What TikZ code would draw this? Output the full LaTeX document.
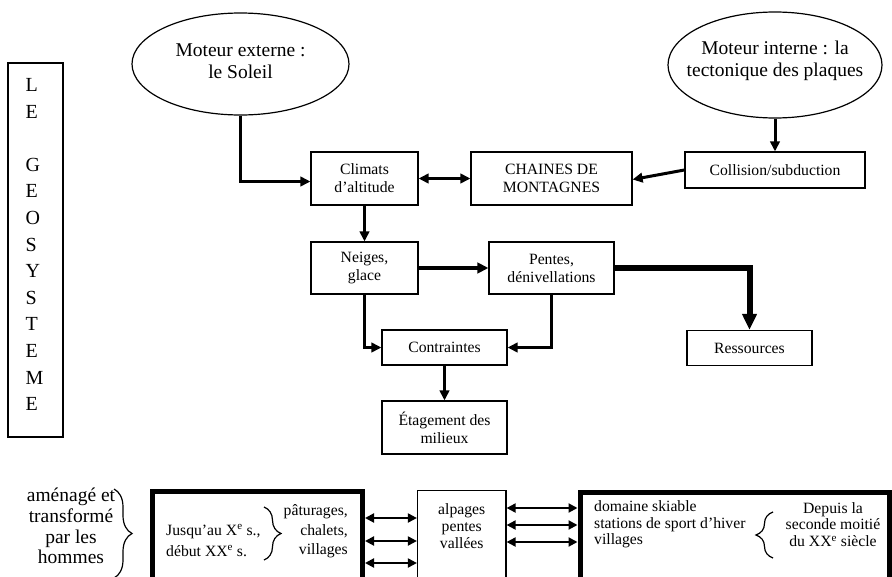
\documentclass[tikz,border=0pt]{standalone}
\usepackage{fontspec}
\setmainfont{Liberation Serif}
\usetikzlibrary{arrows.meta,shapes.geometric,decorations.pathreplacing}
\begin{document}
\begin{tikzpicture}[x=1pt,y=-1pt,
  box/.style={draw, line width=1.2pt, inner sep=0pt, align=center, font=\fontsize{15.7}{18}\selectfont},
  ell/.style={draw, ellipse, line width=1.2pt, inner sep=0pt},
  etext/.style={align=center, inner sep=0pt, font=\fontsize{19.5}{22}\selectfont},
  txt/.style={inner sep=0pt, font=\fontsize{15.7}{18}\selectfont},
  conn/.style={line width=3pt, -{Triangle[length=10pt,width=9.5pt]}},
  connb/.style={line width=4pt, -{Triangle[length=11pt,width=10.5pt]}},
  conns/.style={line width=6pt, -{Triangle[length=16pt,width=14pt]}},
  dbl/.style={line width=3pt, {Triangle[length=10pt,width=9.5pt]}-{Triangle[length=10pt,width=9.5pt]}},
  dbls/.style={line width=2pt, {Triangle[length=9pt,width=9pt]}-{Triangle[length=9pt,width=9pt]}},
  bigbox/.style={draw, line width=5pt, inner sep=0pt},
  brc/.style={decorate, line width=1.2pt},
  letter/.style={anchor=west, inner sep=0pt, font=\fontsize{20}{24}\selectfont}
]
\path[use as bounding box] (0,0) rectangle (892,576);
\clip (0,0) rectangle (892,576);

% LE GEOSYSTEME
\node[draw, line width=1.2pt, minimum width=55pt, minimum height=374pt, inner sep=0pt] (geo) at (35.5,250) {};
\foreach \ch/\yy [count=\i] in {L/85, E/111.6, G/164.8, E/191.4, O/218, S/244.6, Y/271.2, S/297.8, T/324.4, E/351, M/377.6, E/404.2}
  \node[letter] (g\i) at (25.5,\yy) {\ch};

% ellipses
\node[ell, minimum width=217pt, minimum height=102pt] (e1) at (240.5,64) {};
\node[etext] (e1t) at (240.5,61) {Moteur externe :\\le Soleil};
\node[ell, minimum width=214pt, minimum height=106pt] (e2) at (775,65) {};
\node[etext] (e2t) at (775,61) {Moteur interne : la\\tectonique des plaques};

% boxes
\node[box, minimum width=107pt, minimum height=53pt] (clim) at (364.5,178.5) {Climats\\d’altitude};
\node[box, minimum width=161pt, minimum height=53pt] (chain) at (551.5,178.5) {CHAINES DE\\MONTAGNES};
\node[box, minimum width=180pt, minimum height=36pt] (coll) at (775,170) {Collision/subduction};
\node[box, minimum width=107pt, minimum height=52pt] (neig) at (364.5,268) {Neiges,\\glace};
\node[box, minimum width=125pt, minimum height=52pt] (pent) at (551.5,268) {Pentes,\\dénivellations};
\node[box, minimum width=125pt, minimum height=35pt] (cont) at (444.5,347.5) {Contraintes};
\node[box, minimum width=125pt, minimum height=35pt] (ress) at (749.5,348) {Ressources};
\node[box, minimum width=125pt, minimum height=53pt] (etag) at (444.5,427.5) {Étagement des\\milieux};

% connectors
\draw[conn] (e1.south) |- ([yshift=-3pt]clim.west);
\draw[conn] (e2.south) -- (coll.north);
\draw[conn] (coll.west) -- ([yshift=-1pt]chain.east);
\draw[dbl] (clim.east) -- (chain.west);
\draw[conn] (clim.south) -- (neig.north);
\draw[connb] (neig.east) -- (pent.west);
\draw[conns] (pent.east) -| (ress.north);
\draw[conn] (neig.south) |- (cont.west);
\draw[conn] (pent.south) |- (cont.east);
\draw[conn] (cont.south) -- (etag.north);

% bottom part
\node[inner sep=0pt, align=center, font=\fontsize{19.5}{20.7}\selectfont] (amen) at (71,526) {aménagé et\\transformé\\par les\\hommes};
\draw[brc, decoration={brace, amplitude=18pt}] (114,489) -- (114,578);

\node[bigbox, minimum width=210pt, minimum height=148.5pt] (lbox) at (257.5,565.75) {};
\node[txt, anchor=west, align=left, font=\fontsize{15.7}{21}\selectfont] (jus) at (166,540.5) {Jusqu’au X\textsuperscript{e} s.,\\début XX\textsuperscript{e} s.};
\draw[brc, decoration={brace, amplitude=17pt}] (264,507) -- (264,560);
\node[txt, anchor=east, align=right, font=\fontsize{15.7}{19.5}\selectfont] (pat) at (348,531.5) {pâturages,\\chalets,\\villages};

\node[draw, line width=1.2pt, inner sep=0pt, minimum width=88.5pt, minimum height=149.5pt] (alp) at (461.75,565.25) {};
\node[txt, align=center, font=\fontsize{15.7}{17}\selectfont] (alpt) at (461.75,526) {alpages\\pentes\\vallées};

\node[bigbox, minimum width=309.5pt, minimum height=147.5pt] (rbox) at (734.75,566.25) {};
\node[txt, anchor=west, align=left, font=\fontsize{15.7}{16.7}\selectfont] (dom) at (594,524.5) {domaine skiable\\stations de sport d’hiver\\villages};
\draw[brc, decoration={brace, amplitude=17pt}] (773,558) -- (773,512);
\node[txt, align=center, font=\fontsize{15.7}{16.7}\selectfont] (dep) at (833,524.5) {Depuis la\\seconde moitié\\du XX\textsuperscript{e} siècle};

\foreach \yy [count=\i] in {518,541,563}
  \draw[dbls] (lbox.east |- 0,\yy) -- (alp.west |- 0,\yy);
\foreach \yy [count=\i] in {508,525,542}
  \draw[dbls] (alp.east |- 0,\yy) -- (rbox.west |- 0,\yy);
\end{tikzpicture}
\end{document}
